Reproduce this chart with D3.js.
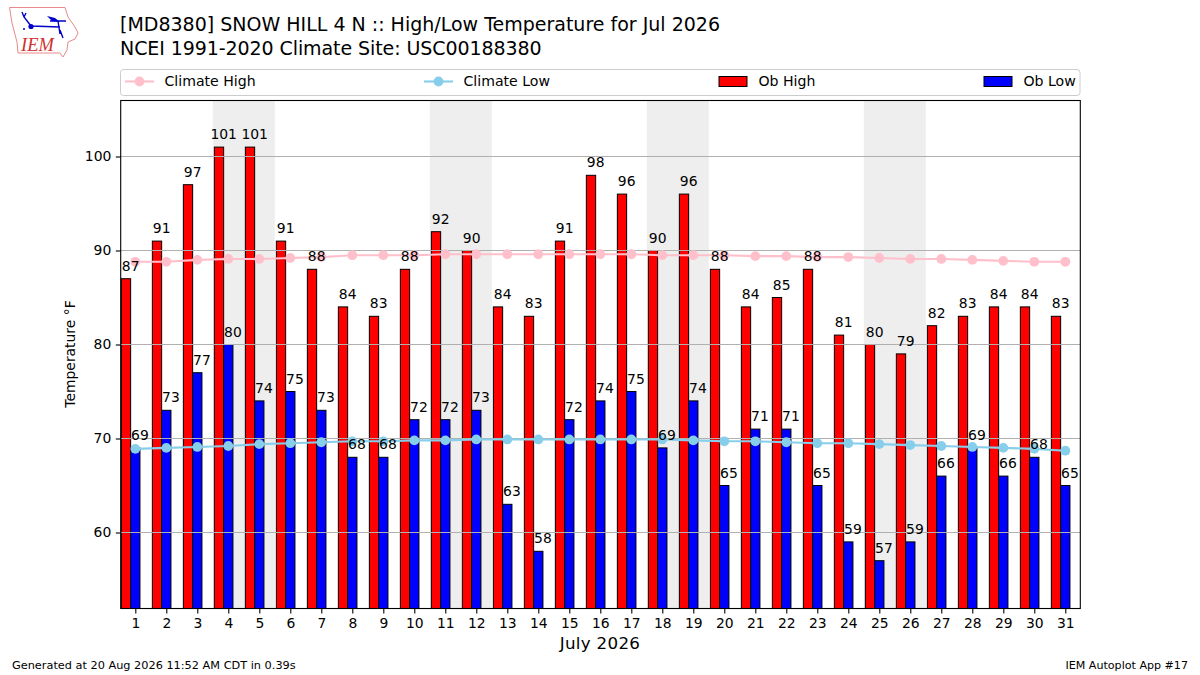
<!DOCTYPE html>
<html><head><meta charset="utf-8">
<script src="https://cdn.jsdelivr.net/npm/d3@7/dist/d3.min.js"></script>
<style>html,body{margin:0;padding:0;background:#fff}svg{display:block}text{font-family:"DejaVu Sans",sans-serif;fill:#000}</style>
</head><body><svg id="c" width="1200" height="675"></svg>
<script>
const days = d3.range(1, 32);
const obHigh = [87,91,97,101,101,91,88,84,83,88,92,90,84,83,91,98,96,90,96,88,84,85,88,81,80,79,82,83,84,84,83];
const obLow = [69,73,77,80,74,75,73,68,68,72,72,73,63,58,72,74,75,69,74,65,71,71,65,59,57,59,66,69,66,68,65];
const climateHigh = [88.8,88.8,89.0,89.1,89.1,89.2,89.3,89.5,89.5,89.5,89.6,89.6,89.6,89.6,89.6,89.6,89.6,89.5,89.5,89.5,89.4,89.4,89.3,89.3,89.2,89.1,89.1,89.0,88.9,88.8,88.8];
const climateLow = [68.9,69.0,69.1,69.2,69.4,69.5,69.6,69.7,69.7,69.8,69.8,69.9,69.9,69.9,69.9,69.9,69.9,69.9,69.8,69.7,69.7,69.6,69.5,69.5,69.4,69.3,69.2,69.1,69.0,68.9,68.7];
const weekendStarts = [4,11,18,25];
const yTicks = [60,70,80,90,100];
const titleLines = ["[MD8380] SNOW HILL 4 N :: High/Low Temperature for Jul 2026","NCEI 1991-2020 Climate Site: USC00188380"];
const legendItems = ["Climate High","Climate Low","Ob High","Ob Low"];

const svg = d3.select("#c");
const L=120.7,R=1080.3,T=100.5,B=608.5;
const x = d3.scaleLinear().domain([0.529,31.484]).range([L,R]);
const y = d3.scaleLinear().domain([52,106]).range([607.7,100.1]);
const bw = 0.3;

const plot = svg.append("g");
plot.selectAll(".wk").data(weekendStarts).join("rect")
 .attr("x",d=>x(d-0.5)).attr("width",d=>x(d+1.5)-x(d-0.5))
 .attr("y",T).attr("height",B-T).attr("fill","#eeeeee");

function bars(vals,off,col){
 plot.append("g").selectAll("rect").data(vals).join("rect")
  .attr("x",(d,i)=>x(days[i]+off)).attr("width",x(1+bw)-x(1))
  .attr("y",d=>y(d)).attr("height",d=>B-y(d))
  .attr("fill",col).attr("stroke","#000").attr("stroke-width",1);
}
bars(obHigh,-0.45,"#ff0000");
bars(obLow,-0.15,"#0000ff");

plot.selectAll(".g").data(yTicks).join("line")
 .attr("x1",L).attr("x2",R).attr("y1",d=>y(d)).attr("y2",d=>y(d))
 .attr("stroke","#b0b0b0").attr("stroke-width",1.1);

function climate(vals,col){
 plot.append("path").datum(vals)
  .attr("d",d3.line().x((d,i)=>x(days[i])).y(d=>y(d)))
  .attr("fill","none").attr("stroke",col).attr("stroke-width",2.1);
 plot.append("g").selectAll("circle").data(vals).join("circle")
  .attr("cx",(d,i)=>x(days[i])).attr("cy",d=>y(d)).attr("r",4.9).attr("fill",col);
}
climate(climateHigh,"#ffc0cb");
climate(climateLow,"#87ceeb");

function labels(vals,off){
 plot.append("g").selectAll("text").data(vals).join("text")
  .attr("x",(d,i)=>x(days[i]+off)).attr("y",d=>y(d)-8)
  .attr("text-anchor","middle").attr("font-size",13.9).text(d=>d);
}
labels(obHigh,-0.15);
labels(obLow,0.15);

// axes
svg.append("rect").attr("x",L).attr("y",T).attr("width",R-L).attr("height",B-T)
 .attr("fill","none").attr("stroke","#000").attr("stroke-width",1.1);
const xa = svg.append("g").attr("transform",`translate(0,${B})`)
 .call(d3.axisBottom(x).tickValues(days).tickFormat(d3.format("d")).tickSize(4.9).tickPadding(4.5));
const ya = svg.append("g").attr("transform",`translate(${L},0)`)
 .call(d3.axisLeft(y).tickValues(yTicks).tickSize(4.9).tickPadding(4.5));
[xa,ya].forEach(a=>{a.select(".domain").remove();
 a.selectAll("text").attr("font-size",13.9).attr("font-family",'"DejaVu Sans",sans-serif').attr("fill","#000");
 a.selectAll("line").attr("stroke","#000").attr("stroke-width",1.1);});

svg.append("text").attr("x",600).attr("y",649).attr("text-anchor","middle").attr("font-size",16.7).attr("letter-spacing",0.3).text("July 2026");
svg.append("text").attr("transform","translate(75,354) rotate(-90)").attr("text-anchor","middle").attr("font-size",13.9).text("Temperature °F");

// title
titleLines.forEach((t,i)=>svg.append("text").attr("x",120).attr("y",31+i*23.5).attr("font-size",19).attr("letter-spacing",i?-0.08:0).text(t));

// legend
svg.append("rect").attr("x",120.5).attr("y",69.5).attr("width",959.5).attr("height",26).attr("rx",3)
 .attr("fill","#fff").attr("stroke","#cccccc").attr("stroke-width",1);
const lgX=[125,424,719,984], lgC=["#ffc0cb","#87ceeb","#ff0000","#0000ff"];
legendItems.forEach((t,i)=>{
 const g=svg.append("g");
 if(i<2){
  g.append("line").attr("x1",lgX[i]).attr("x2",lgX[i]+29).attr("y1",81.5).attr("y2",81.5).attr("stroke",lgC[i]).attr("stroke-width",2.1);
  g.append("circle").attr("cx",lgX[i]+14.5).attr("cy",81.5).attr("r",4.9).attr("fill",lgC[i]);
 } else {
  g.append("rect").attr("x",lgX[i]).attr("y",76.5).attr("width",28).attr("height",10).attr("fill",lgC[i]).attr("stroke","#000").attr("stroke-width",1);
 }
 g.append("text").attr("x",lgX[i]+39.5).attr("y",86).attr("font-size",14.1).text(t);
});

// footer
svg.append("text").attr("x",12).attr("y",669).attr("font-size",11.3).text("Generated at 20 Aug 2026 11:52 AM CDT in 0.39s");
svg.append("text").attr("x",1188).attr("y",669).attr("text-anchor","end").attr("font-size",11.1).text("IEM Autoplot App #17");

// logo
const logo=svg.append("g");
logo.append("path").attr("d","M9.5 7.5 L65 7.5 L68 17 L75 27 L78 33 L75 39 L68 42 L67 50 L63 57 L60 53 L18 53 L17 42 L12 23 Z")
 .attr("fill","#fff").attr("stroke","#e88a8a").attr("stroke-width",1);
logo.append("path").attr("d","M31 26 L60 27 M50 21 L66 21 M58 21 L60 34 M60 30 L63 38 M31 26 L24 17 L22 12 M24 17 L26 13")
 .attr("fill","none").attr("stroke","#0000cc").attr("stroke-width",1.4);
logo.append("path").attr("d","M47 16 L55 18 L60 22 L52 21 Z").attr("fill","#0000cc");
logo.append("circle").attr("cx",31).attr("cy",26.5).attr("r",2.6).attr("fill","#0000cc");
logo.append("circle").attr("cx",24).attr("cy",29).attr("r",1).attr("fill","#0000cc");
logo.append("text").attr("x",21).attr("y",51).attr("font-style","italic").attr("font-size",18.5).style("font-family",'"Liberation Serif",serif').style("fill","#d03030").text("IEM");
</script></body></html>
